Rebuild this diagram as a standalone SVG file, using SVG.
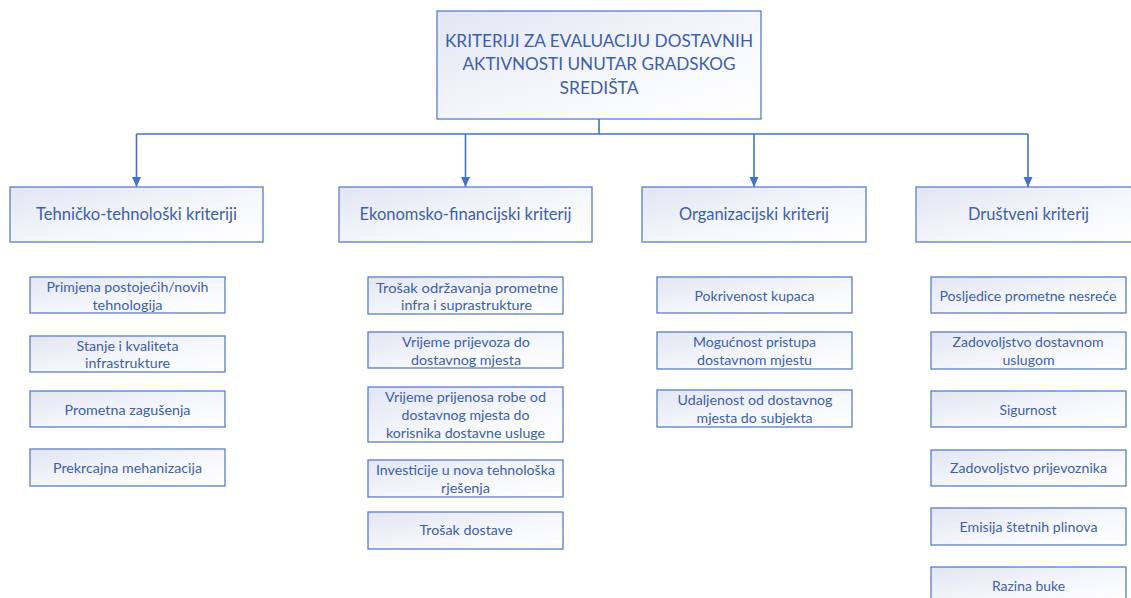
<svg xmlns="http://www.w3.org/2000/svg" width="1131" height="598" viewBox="0 0 1131 598">
<defs>
<linearGradient id="g" x1="0" y1="0" x2="1" y2="1">
<stop offset="0" stop-color="#e2e6f3"/>
<stop offset="0.6" stop-color="#f7f8fc"/>
<stop offset="1" stop-color="#ffffff"/>
</linearGradient>
<marker id="arr" markerUnits="userSpaceOnUse" markerWidth="10" markerHeight="10" viewBox="0 0 10 10" refX="10" refY="5" orient="auto">
<path d="M0,0.5 L10,5 L0,9.5 Z" fill="#4472C4"/>
</marker>
<style>
.b{fill:url(#g);stroke:#5b7fc6;stroke-width:1.3}
.t{font-family:Lato,"Open Sans","Liberation Sans",sans-serif;fill:#3d60ab;text-anchor:middle}
.h{font-size:17.5px}
.c{font-size:17px}
.s{font-size:14px}
.k{fill:none;stroke:#4472C4;stroke-width:1.6}
</style>
</defs>
<g id="connectors">
<path class="k" d="M599,119 V134"/>
<path class="k" d="M136.5,134 H1028"/>
<path class="k" d="M136.5,134 V187" marker-end="url(#arr)"/>
<path class="k" d="M465.5,134 V187" marker-end="url(#arr)"/>
<path class="k" d="M754,134 V187" marker-end="url(#arr)"/>
<path class="k" d="M1028,134 V187" marker-end="url(#arr)"/>
</g>
<g id="root">
<rect class="b" x="437" y="11" width="324" height="108"/>
<text class="t h" x="599" y="46.5" textLength="308" lengthAdjust="spacingAndGlyphs">KRITERIJI ZA EVALUACIJU DOSTAVNIH</text>
<text class="t h" x="599" y="70" textLength="273" lengthAdjust="spacingAndGlyphs">AKTIVNOSTI UNUTAR GRADSKOG</text>
<text class="t h" x="599" y="93.5" textLength="79" lengthAdjust="spacingAndGlyphs">SREDIŠTA</text>
</g>
<g id="cat-tehnicko">
<rect class="b" x="10" y="187" width="253" height="55"/>
<text class="t c" x="136.5" y="220" textLength="201" lengthAdjust="spacingAndGlyphs">Tehničko-tehnološki kriteriji</text>
</g>
<g id="cat-ekonomsko">
<rect class="b" x="339" y="187" width="253" height="55"/>
<text class="t c" x="465.5" y="220" textLength="212" lengthAdjust="spacingAndGlyphs">Ekonomsko-financijski kriterij</text>
</g>
<g id="cat-organizacijski">
<rect class="b" x="642" y="187" width="224" height="55"/>
<text class="t c" x="754" y="220" textLength="150" lengthAdjust="spacingAndGlyphs">Organizacijski kriterij</text>
</g>
<g id="cat-drustveni">
<rect class="b" x="916" y="187" width="224" height="55"/>
<text class="t c" x="1028.5" y="220" textLength="121" lengthAdjust="spacingAndGlyphs">Društveni kriterij</text>
</g>
<g id="t1">
<rect class="b" x="30" y="277" width="195" height="36"/>
<text class="t s" x="127.5" y="292" textLength="162" lengthAdjust="spacingAndGlyphs">Primjena postojećih/novih</text>
<text class="t s" x="127.5" y="309.5" textLength="70" lengthAdjust="spacingAndGlyphs">tehnologija</text>
</g>
<g id="t2">
<rect class="b" x="30" y="336" width="195" height="36"/>
<text class="t s" x="127.5" y="350.5" textLength="102" lengthAdjust="spacingAndGlyphs">Stanje i kvaliteta</text>
<text class="t s" x="127.5" y="368" textLength="85" lengthAdjust="spacingAndGlyphs">infrastrukture</text>
</g>
<g id="t3">
<rect class="b" x="30" y="391" width="195" height="36"/>
<text class="t s" x="127.5" y="414.5" textLength="126" lengthAdjust="spacingAndGlyphs">Prometna zagušenja</text>
</g>
<g id="t4">
<rect class="b" x="30" y="449" width="195" height="37"/>
<text class="t s" x="127.5" y="473" textLength="149" lengthAdjust="spacingAndGlyphs">Prekrcajna mehanizacija</text>
</g>
<g id="e1">
<rect class="b" x="368" y="277" width="195" height="37"/>
<text class="t s" x="467" y="292.5" textLength="182" lengthAdjust="spacingAndGlyphs">Trošak održavanja prometne</text>
<text class="t s" x="466.5" y="310" textLength="131" lengthAdjust="spacingAndGlyphs">infra i suprastrukture</text>
</g>
<g id="e2">
<rect class="b" x="368" y="332" width="195" height="36"/>
<text class="t s" x="466" y="346.5" textLength="128" lengthAdjust="spacingAndGlyphs">Vrijeme prijevoza do</text>
<text class="t s" x="466" y="364.5" textLength="110" lengthAdjust="spacingAndGlyphs">dostavnog mjesta</text>
</g>
<g id="e3">
<rect class="b" x="368" y="387" width="195" height="55"/>
<text class="t s" x="465.5" y="401.5" textLength="161" lengthAdjust="spacingAndGlyphs">Vrijeme prijenosa robe od</text>
<text class="t s" x="465.5" y="420" textLength="128" lengthAdjust="spacingAndGlyphs">dostavnog mjesta do</text>
<text class="t s" x="465.5" y="438" textLength="159" lengthAdjust="spacingAndGlyphs">korisnika dostavne usluge</text>
</g>
<g id="e4">
<rect class="b" x="368" y="460" width="195" height="37"/>
<text class="t s" x="465.5" y="475" textLength="179" lengthAdjust="spacingAndGlyphs">Investicije u nova tehnološka</text>
<text class="t s" x="465.5" y="493" textLength="49" lengthAdjust="spacingAndGlyphs">rješenja</text>
</g>
<g id="e5">
<rect class="b" x="368" y="512" width="195" height="37"/>
<text class="t s" x="466" y="535" textLength="93" lengthAdjust="spacingAndGlyphs">Trošak dostave</text>
</g>
<g id="o1">
<rect class="b" x="657" y="277" width="195" height="36"/>
<text class="t s" x="754.5" y="300.5" textLength="120" lengthAdjust="spacingAndGlyphs">Pokrivenost kupaca</text>
</g>
<g id="o2">
<rect class="b" x="657" y="332" width="195" height="37"/>
<text class="t s" x="754.5" y="346.5" textLength="123" lengthAdjust="spacingAndGlyphs">Mogućnost pristupa</text>
<text class="t s" x="754.5" y="364.5" textLength="115" lengthAdjust="spacingAndGlyphs">dostavnom mjestu</text>
</g>
<g id="o3">
<rect class="b" x="657" y="390" width="195" height="37"/>
<text class="t s" x="755" y="405" textLength="155" lengthAdjust="spacingAndGlyphs">Udaljenost od dostavnog</text>
<text class="t s" x="754.5" y="423" textLength="116" lengthAdjust="spacingAndGlyphs">mjesta do subjekta</text>
</g>
<g id="d1">
<rect class="b" x="931" y="277" width="195" height="36"/>
<text class="t s" x="1028" y="300.5" textLength="177" lengthAdjust="spacingAndGlyphs">Posljedice prometne nesreće</text>
</g>
<g id="d2">
<rect class="b" x="931" y="332" width="195" height="37"/>
<text class="t s" x="1028" y="346.5" textLength="151" lengthAdjust="spacingAndGlyphs">Zadovoljstvo dostavnom</text>
<text class="t s" x="1028.5" y="364.5" textLength="52" lengthAdjust="spacingAndGlyphs">uslugom</text>
</g>
<g id="d3">
<rect class="b" x="931" y="391" width="195" height="36"/>
<text class="t s" x="1028" y="414.5" textLength="57" lengthAdjust="spacingAndGlyphs">Sigurnost</text>
</g>
<g id="d4">
<rect class="b" x="931" y="450" width="195" height="36"/>
<text class="t s" x="1028.5" y="473" textLength="157" lengthAdjust="spacingAndGlyphs">Zadovoljstvo prijevoznika</text>
</g>
<g id="d5">
<rect class="b" x="931" y="508" width="195" height="37"/>
<text class="t s" x="1028.5" y="531.5" textLength="138" lengthAdjust="spacingAndGlyphs">Emisija štetnih plinova</text>
</g>
<g id="d6">
<rect class="b" x="931" y="567" width="195" height="37"/>
<text class="t s" x="1028.5" y="590.5" textLength="73" lengthAdjust="spacingAndGlyphs">Razina buke</text>
</g>
</svg>
